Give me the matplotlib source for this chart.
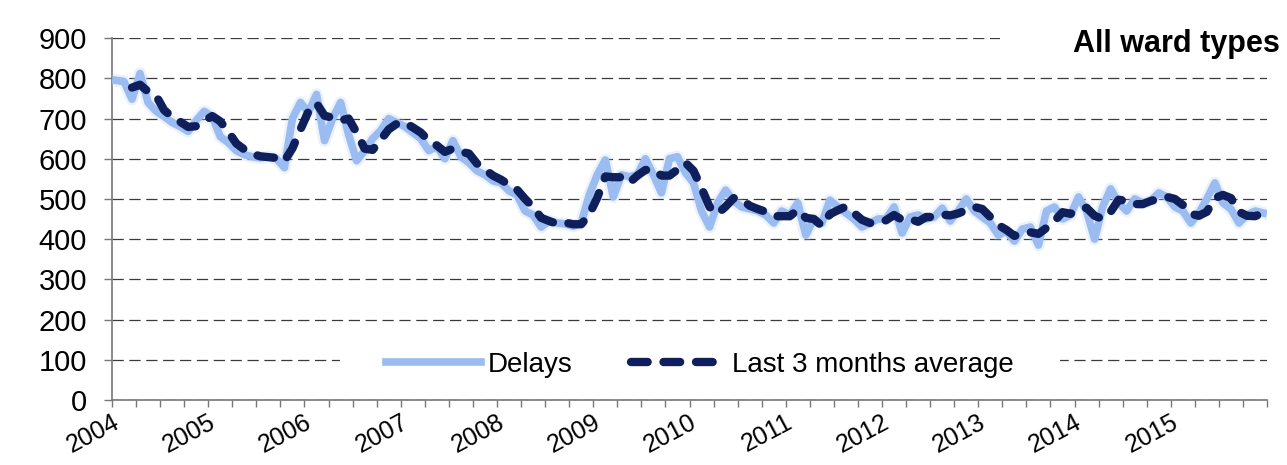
import numpy as np
import matplotlib.pyplot as plt
from matplotlib.patches import Rectangle
from matplotlib.transforms import ScaledTranslation

plt.rcParams['font.family'] = ['Liberation Sans', 'DejaVu Sans']

years = [str(y) for y in range(2004, 2016)]

# monthly delays, Jan 2004 - Dec 2015
delays = [
    795, 792, 748, 812, 740, 718, 705, 690, 680, 668, 695, 718,   # 2004
    705, 655, 640, 620, 610, 605, 602, 605, 600, 578, 700, 740,   # 2005
    715, 760, 645, 700, 740, 660, 595, 620, 650, 670, 700, 690,   # 2006
    680, 665, 650, 620, 630, 600, 645, 605, 590, 570, 560, 545,   # 2007
    540, 520, 510, 470, 460, 430, 445, 440, 438, 432, 440, 510,   # 2008
    560, 597, 505, 560, 555, 560, 600, 560, 515, 600, 605, 565,   # 2009
    540, 470, 430, 490, 522, 495, 480, 475, 470, 460, 440, 470,   # 2010
    460, 490, 410, 450, 440, 497, 480, 465, 450, 430, 440, 450,   # 2011
    450, 480, 415, 455, 460, 450, 455, 477, 445, 470, 500, 470,   # 2012
    455, 440, 410, 420, 395, 425, 430, 385, 470, 480, 450, 460,   # 2013
    505, 470, 400, 480, 525, 490, 470, 500, 490, 495, 515, 505,   # 2014
    480, 470, 440, 465, 500, 540, 490, 475, 440, 460, 470, 465,   # 2015
]

# last 3 months average, from Mar 2004
avg_3m = [
    777, 784, 767, 757, 721, 704, 692, 679, 681, 694,
    706, 693, 667, 638, 623, 612, 606, 604, 602, 594, 626, 673,
    718, 738, 707, 702, 695, 700, 665, 625, 622, 647, 673, 687,
    690, 678, 665, 645, 633, 617, 625, 617, 613, 588, 573, 558,
    548, 535, 523, 500, 480, 453, 445, 438, 441, 437, 437, 461,
    503, 556, 554, 554, 540, 558, 572, 573, 558, 558, 573, 590,
    570, 527, 480, 463, 481, 502, 499, 483, 475, 468, 457, 457,
    457, 473, 453, 450, 433, 462, 472, 481, 465, 448, 440, 440,
    447, 460, 448, 450, 443, 455, 455, 461, 459, 464, 472, 480,
    475, 455, 435, 423, 408, 413, 417, 413, 428, 445, 467, 463,
    472, 478, 458, 450, 468, 498, 495, 487, 487, 495, 500, 505,
    500, 485, 463, 458, 468, 502, 510, 502, 468, 458, 457, 465,
]

months = np.arange(len(delays))
avg_months = np.arange(2, 2 + len(avg_3m))

fig = plt.figure(figsize=(12.87, 4.65), dpi=100)
ax = fig.add_axes([0.087, 0.14, 0.8975, 0.778])

# faint halo + main light blue line
ax.plot(months, delays, color='#b7cff5', lw=9, alpha=0.25,
        solid_joinstyle='round', zorder=3)
ax.plot(months, delays, color='#9bbcf0', lw=5.5,
        solid_joinstyle='round', zorder=4, label='Delays')
ax.plot(avg_months, avg_3m, color='#0e1f5b', lw=6, dashes=(2.0, 1.9),
        dash_capstyle='round', zorder=5, label='Last 3 months average')

ax.set_xlim(-0.5, 143.5)
ax.set_ylim(0, 900)
ax.set_yticks(range(0, 1000, 100))
ax.grid(axis='y', color='#3a3a3a', lw=0.9, linestyle=(0, (9, 4.5)))
ax.set_axisbelow(True)

quarters = np.arange(-0.5, 144, 3)
qlabels = [years[i // 4] if i % 4 == 0 and i // 4 < len(years) else ''
           for i in range(len(quarters))]
ax.set_xticks(quarters)
ax.set_xticklabels(qlabels, rotation=28, ha='right', va='top',
                   rotation_mode='anchor', fontsize=18)
for lbl in ax.get_xticklabels():
    lbl.set_transform(lbl.get_transform() +
                      ScaledTranslation(0.13, 0, fig.dpi_scale_trans))

ax.tick_params(axis='y', length=6, width=1, color='#777777', pad=12,
               labelsize=21)
ax.tick_params(axis='x', length=5, width=1, color='#777777', pad=2)

for s in ['top', 'right']:
    ax.spines[s].set_visible(False)
for s in ['left', 'bottom']:
    ax.spines[s].set_color('#777777')
    ax.spines[s].set_linewidth(1.2)

# white boxes behind title and legend
ax.add_patch(Rectangle((0.769, 0.95), 0.25, 0.1, transform=ax.transAxes,
                       facecolor='white', edgecolor='none', zorder=2,
                       clip_on=False))
ax.add_patch(Rectangle((0.197, 0.07), 0.624, 0.08, transform=ax.transAxes,
                       facecolor='white', edgecolor='none', zorder=2))

ax.text(1.011, 0.983, 'All ward types', transform=ax.transAxes,
        ha='right', va='center', fontsize=22, fontweight='bold')

ax.legend(loc='center', bbox_to_anchor=(0.509, 0.097), ncol=2,
          frameon=False, fontsize=20, handlelength=3.4,
          handletextpad=0.25, columnspacing=2.1)

fig.savefig('out.png', dpi=100)
